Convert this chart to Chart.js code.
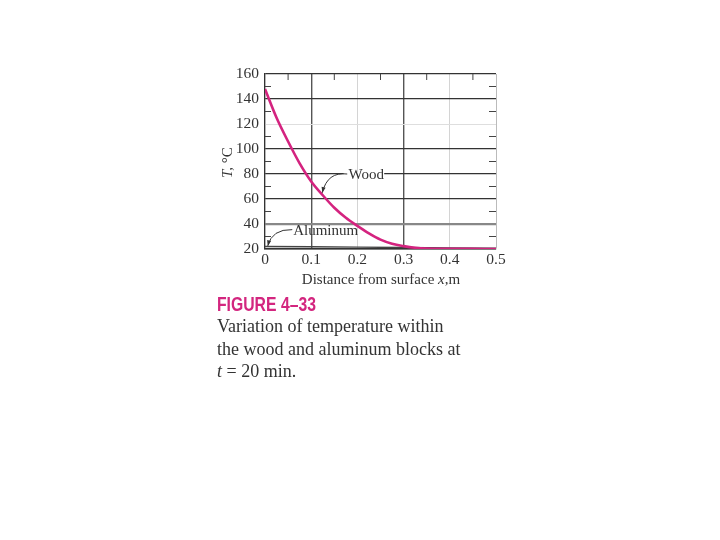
<!DOCTYPE html>
<html>
<head>
<meta charset="utf-8">
<script src="https://cdn.jsdelivr.net/npm/chart.js@4.4.1/dist/chart.umd.min.js"></script>
<style>
  body { margin: 0; background: #fff; }
  #wrap { position: absolute; left: 0; top: 0; width: 720px; height: 540px; }
  .fig { position: absolute; left: 217px; top: 292px; font-family: 'Liberation Sans', Arial, sans-serif;
         font-weight: bold; font-size: 21px; color: #d3267f; transform: scaleX(0.75); transform-origin: left top;
         white-space: nowrap; }
  .cap { position: absolute; left: 217px; top: 315px; font-family: 'Liberation Serif', serif; font-size: 18px;
         line-height: 22.5px; color: #333; }
</style>
</head>
<body>
<div id="wrap"><canvas id="c" width="720" height="540"></canvas></div>
<div class="fig">FIGURE 4–33</div>
<div class="cap">Variation of temperature within<br>the wood and aluminum blocks at<br><i>t</i> = 20 min.</div>
<script>
// values
const woodX = [0, 0.025, 0.05, 0.075, 0.1, 0.125, 0.15, 0.175, 0.2, 0.225, 0.25, 0.275, 0.3, 0.325, 0.35, 0.4, 0.45, 0.5];
const woodT = [148, 125, 106, 88.5, 74, 63, 53, 45, 38.5, 32.5, 27.5, 24.2, 22.3, 21, 20.4, 20.2, 20.1, 20];
const alumX = [0, 0.1, 0.2, 0.3, 0.4, 0.5];
const alumT = [22, 21.8, 21.5, 21.2, 20.9, 20.6];
const xTicks = [0, 0.1, 0.2, 0.3, 0.4, 0.5];
const yTicks = [20, 40, 60, 80, 100, 120, 140, 160];

const ink = '#333';
const serif = "'Liberation Serif', 'DejaVu Serif', serif";

function gridStyle(v, isX) {
    const k = Math.round(v * (isX ? 10 : 0.1) * 10) / 10;
    if (isX) {
        if (k === 1 || k === 3) return { c: '#555', w: 1.4 };
        if (k === 5) return { c: '#bbb', w: 1 };
        if (k === 0) return { c: ink, w: 1.2 };
        return { c: '#d4d4d4', w: 1 };
    }
    if (v === 40) return { c: '#888', w: 2.2 };
    if (v === 120) return { c: '#dedede', w: 1 };
    return { c: '#333', w: 1.2 };
}

const annotations = {
    id: 'annotations',
    afterDatasetsDraw(chart) {
        const { ctx, scales: { x, y }, chartArea: a } = chart;
        const px = v => x.getPixelForValue(v);
        const py = v => y.getPixelForValue(v);
        ctx.save();
        // inner minor ticks
        ctx.strokeStyle = '#444';
        ctx.lineWidth = 1;
        [30, 50, 70, 90, 110, 130, 150].forEach(v => {
            ctx.beginPath();
            ctx.moveTo(a.left, py(v)); ctx.lineTo(a.left + 6, py(v));
            ctx.moveTo(a.right - 7, py(v)); ctx.lineTo(a.right, py(v));
            ctx.stroke();
        });
        [0.05, 0.15, 0.25, 0.35, 0.45].forEach(v => {
            ctx.beginPath();
            ctx.moveTo(px(v), a.top); ctx.lineTo(px(v), a.top + 6);
            ctx.stroke();
        });

        // labels
        ctx.font = '15px ' + serif;
        ctx.textBaseline = 'middle';
        ctx.fillStyle = '#fff';
        ctx.fillRect(px(0.17), py(80) - 2, px(0.258) - px(0.17), 4);
        ctx.fillStyle = ink;
        ctx.textAlign = 'left';
        ctx.fillText('Wood', px(0.181), py(79.5));
        ctx.fillText('Aluminum', px(0.061), py(34.5));

        // arrows
        const arrow = (x0, y0, cx, cy, x1, y1) => {
            ctx.beginPath();
            ctx.moveTo(x0, y0);
            ctx.quadraticCurveTo(cx, cy, x1, y1);
            ctx.stroke();
            const ang = Math.atan2(y1 - cy, x1 - cx);
            ctx.beginPath();
            ctx.moveTo(x1, y1);
            ctx.lineTo(x1 - 6 * Math.cos(ang - 0.35), y1 - 6 * Math.sin(ang - 0.35));
            ctx.lineTo(x1 - 6 * Math.cos(ang + 0.35), y1 - 6 * Math.sin(ang + 0.35));
            ctx.closePath();
            ctx.fill();
        };
        ctx.strokeStyle = ink;
        ctx.lineWidth = 1;
        arrow(px(0.178), py(80), px(0.135), py(82), px(0.124), py(65));
        arrow(px(0.059), py(35.5), px(0.015), py(36), px(0.006), py(22.5));

        // axis titles
        ctx.textAlign = 'left';
        ctx.textBaseline = 'alphabetic';
        ctx.save();
        ctx.translate(232, 178);
        ctx.rotate(-Math.PI / 2);
        ctx.font = 'italic 15px ' + serif;
        ctx.fillText('T,', 0, 0);
        const w1 = ctx.measureText('T, ').width;
        ctx.font = '15px ' + serif;
        ctx.fillText('°C', w1, 0);
        ctx.restore();

        const p1 = 'Distance from surface ', p3 = ',m';
        ctx.font = '15px ' + serif;
        const wa = ctx.measureText(p1).width, wc = ctx.measureText(p3).width;
        ctx.font = 'italic 15px ' + serif;
        const wb = ctx.measureText('x').width;
        let sx = 381 - (wa + wb + wc) / 2;
        const by = 284;
        ctx.font = '15px ' + serif;
        ctx.fillText(p1, sx, by);
        ctx.font = 'italic 15px ' + serif;
        ctx.fillText('x', sx + wa, by);
        ctx.font = '15px ' + serif;
        ctx.fillText(p3, sx + wa + wb, by);
        ctx.restore();
    }
};

new Chart(document.getElementById('c'), {
    type: 'line',
    data: {
        datasets: [
            {
                label: 'Wood',
                data: woodX.map((v, i) => ({ x: v, y: woodT[i] })),
                borderColor: '#d4237f',
                borderWidth: 2.6,
                pointRadius: 0,
                cubicInterpolationMode: 'monotone'
            },
            {
                label: 'Aluminum',
                data: alumX.map((v, i) => ({ x: v, y: alumT[i] })),
                borderColor: '#444',
                borderWidth: 1.3,
                pointRadius: 0
            }
        ]
    },
    options: {
        responsive: false,
        animation: false,
        layout: { padding: { left: 200, top: 74, right: 224, bottom: 251 } },
        plugins: { legend: { display: false }, tooltip: { enabled: false } },
        scales: {
            x: {
                type: 'linear', min: 0, max: 0.5,
                afterBuildTicks: s => { s.ticks = xTicks.map(v => ({ value: v })); },
                afterFit: s => { s.height = 40; },
                ticks: {
                    padding: 2, color: ink, font: { family: serif, size: 15.5 },
                    callback: v => v === 0 ? '0' : v.toFixed(1),
                    maxRotation: 0
                },
                grid: {
                    drawTicks: false,
                    color: c => gridStyle(c.tick.value, true).c,
                    lineWidth: c => gridStyle(c.tick.value, true).w
                },
                border: { display: true, color: ink, width: 1.4 }
            },
            y: {
                type: 'linear', min: 20, max: 160,
                afterBuildTicks: s => { s.ticks = yTicks.map(v => ({ value: v })); },
                afterFit: s => { s.width = 65; },
                ticks: { padding: 6, color: ink, font: { family: serif, size: 15.5 } },
                grid: {
                    drawTicks: false,
                    color: c => gridStyle(c.tick.value, false).c,
                    lineWidth: c => gridStyle(c.tick.value, false).w
                },
                border: { display: true, color: ink, width: 1.2 }
            }
        }
    },
    plugins: [annotations]
});
</script>
</body>
</html>
